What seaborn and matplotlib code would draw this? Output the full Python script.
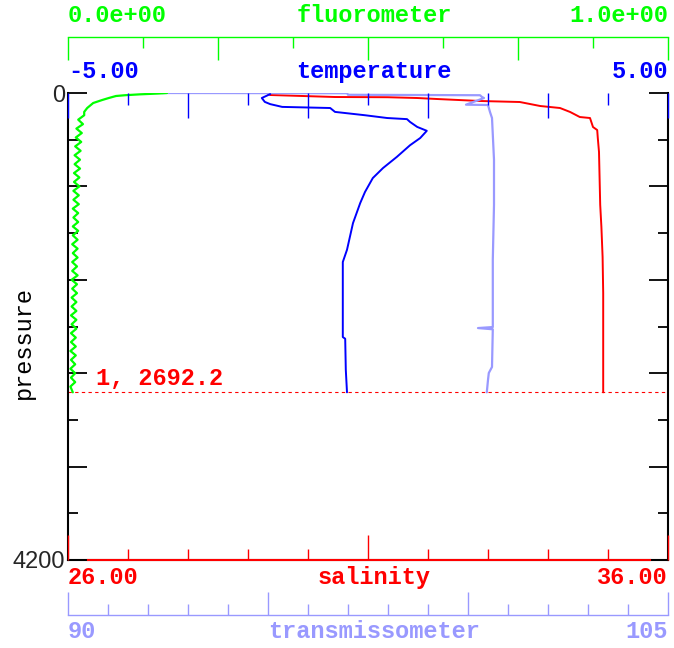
import numpy as np
import matplotlib
matplotlib.use("Agg")
import matplotlib.pyplot as plt
import seaborn as sns

# profile data (pressure in dbar)
pres_temp = [10, 45, 80, 100, 125, 135, 170, 200, 225, 235, 260, 305, 340, 405, 470,
             575, 675, 765, 890, 990, 1170, 1410, 1520, 1860, 2195, 2210, 2490, 2692]
temp = [-1.63, -1.77, -1.72, -1.63, -1.43, -0.63, -0.55, -0.05, 0.32, 0.65, 0.70, 0.82, 0.98, 0.87, 0.70,
        0.48, 0.25, 0.08, -0.05, -0.13, -0.25, -0.35, -0.42, -0.42, -0.42, -0.38, -0.37, -0.35]

pres_sal = [5, 18, 36, 38, 45, 54, 72, 81, 117, 135, 171, 216, 225, 306, 333, 405, 530,
            1005, 1205, 1475, 1800, 2692]
sal = [29.33, 29.37, 30.45, 31.33, 31.82, 32.15, 32.87, 33.53, 33.87, 34.20, 34.37, 34.53, 34.70,
       34.75, 34.82, 34.83, 34.85, 34.87, 34.89, 34.91, 34.92, 34.92]

pres_trans = [0, 2, 16, 20, 36, 45, 105, 108, 171, 225, 600, 1007, 1500, 2105, 2114, 2125,
              2464, 2518, 2581, 2692]
trans = [92.35, 96.98, 97.00, 100.30, 100.35, 100.40, 99.95, 100.50, 100.55, 100.60, 100.65,
         100.65, 100.62, 100.62, 100.25, 100.62, 100.60, 100.52, 100.50, 100.47]

pres_fluor = [0, 5, 12, 20, 27, 45, 63, 90, 135, 170,
              200, 240, 280, 320, 360, 400, 440, 480, 520, 560, 600, 640, 680, 720, 760,
              800, 840, 880, 920, 960, 1000, 1040, 1080, 1120, 1160, 1200, 1240, 1280, 1320,
              1360, 1400, 1440, 1480, 1520, 1560, 1600, 1640, 1680, 1720, 1760, 1800, 1840,
              1880, 1920, 1960, 2000, 2040, 2080, 2120, 2160, 2200, 2240, 2280, 2320, 2360,
              2400, 2440, 2480, 2520, 2560, 2600, 2640, 2692]
fluor = [0.165, 0.150, 0.120, 0.095, 0.080, 0.068, 0.057, 0.042, 0.032, 0.027,
         0.027, 0.017, 0.025, 0.014, 0.023, 0.013, 0.022, 0.012, 0.021, 0.011, 0.020, 0.011,
         0.020, 0.010, 0.019, 0.010, 0.019, 0.009, 0.018, 0.009, 0.018, 0.008, 0.017, 0.009,
         0.017, 0.008, 0.017, 0.008, 0.016, 0.007, 0.016, 0.008, 0.016, 0.007, 0.015, 0.007,
         0.016, 0.006, 0.015, 0.007, 0.015, 0.006, 0.014, 0.006, 0.014, 0.005, 0.014, 0.006,
         0.014, 0.005, 0.013, 0.005, 0.013, 0.004, 0.013, 0.005, 0.012, 0.004, 0.012, 0.005,
         0.012, 0.004, 0.008]

pres_max = 2692.2

GREEN = '#00ff00'
BLUE = '#0000ff'
RED = '#ff0000'
LBLUE = '#9999ff'
PT = 0.72  # points per pixel at dpi 100

sns.set_style("white")
mono = dict(family='Liberation Mono', weight='bold', size=17)

fig = plt.figure(figsize=(6.74, 6.48), dpi=100)
ax = fig.add_axes([68 / 674, 88 / 648, 600 / 674, 467 / 648])

# pressure frame
ax.set_xlim(0, 1)
ax.set_xticks([])
ax.set_yticks(np.arange(0, 4201, 840))
ax.set_yticks(np.arange(420, 4200, 840), minor=True)
ax.set_yticklabels(['0', '', '', '', '', '4200'], family='Liberation Sans', size=17)
ax.tick_params(axis='y', which='both', direction='in', left=True, right=True,
               width=1.3, color='black', pad=2)
ax.tick_params(axis='y', which='major', length=19 * PT)
ax.tick_params(axis='y', which='minor', length=10 * PT)
ax.spines['top'].set_visible(False)
for s in ['left', 'right', 'bottom']:
    ax.spines[s].set_color('black')
    ax.spines[s].set_linewidth(1.5)
ax.axhline(pres_max, color=RED, lw=0.8, ls=(0, (3, 3)))
ax.annotate(f"1, {pres_max}", xy=(0.047, pres_max), xycoords=('axes fraction', 'data'),
            xytext=(0, 10), textcoords='offset points', va='center', ha='left',
            color=RED, **mono)
ax.text(-0.075, 0.465, 'pressure', transform=ax.transAxes, rotation=90,
        ha='center', va='center', family='Liberation Mono', size=17, color='black')


def twin(lims, side, color, major, minor, big, small, outward=None):
    t = ax.twiny()
    for s in t.spines.values():
        s.set_visible(False)
    t.xaxis.set_ticks_position(side)
    t.set_xticks(major)
    t.set_xticks(minor, minor=True)
    t.tick_params(axis='x', which='both', direction='in', color=color, width=1,
                  labeltop=False, labelbottom=False)
    t.tick_params(axis='x', which='major', length=big * PT)
    t.tick_params(axis='x', which='minor', length=small * PT)
    if outward is not None:
        t.spines[side].set_visible(True)
        t.spines[side].set_position(('outward', outward * PT))
        t.spines[side].set_color(color)
        t.spines[side].set_linewidth(1)
    t.set_xlabel('')
    return t, lims


ax_s, lim_s = twin((26, 36), 'bottom', RED, [26, 31, 36],
                   [27, 28, 29, 30, 32, 33, 34, 35], 25, 11)
ax_s.spines['bottom'].set_visible(True)
ax_s.spines['bottom'].set_color(RED)
ax_s.spines['bottom'].set_linewidth(1.5)
ax_s.spines['bottom'].set_bounds(26.33, 35.7)

ax_tr, lim_tr = twin((90, 105), 'bottom', LBLUE, [90, 95, 100, 105],
                     [91, 92, 93, 94, 96, 97, 98, 99, 101, 102, 103, 104], 23, 11, outward=55)
ax_f, lim_f = twin((0, 1), 'top', GREEN, [0, 0.25, 0.5, 0.75, 1.0],
                   [0.125, 0.375, 0.625, 0.875], 23, 11, outward=56)
ax_t, lim_t = twin((-5, 5), 'top', BLUE, [-5, -3, -1, 1, 3, 5],
                   [-4, -2, 0, 2, 4], 25, 12)

sns.lineplot(x=fluor, y=pres_fluor, sort=False, estimator=None, color=GREEN, lw=1.6, ax=ax_f)
sns.lineplot(x=trans, y=pres_trans, sort=False, estimator=None, color=LBLUE, lw=1.6, ax=ax_tr)
sns.lineplot(x=sal, y=pres_sal, sort=False, estimator=None, color=RED, lw=1.4, ax=ax_s)
sns.lineplot(x=temp, y=pres_temp, sort=False, estimator=None, color=BLUE, lw=1.4, ax=ax_t)

for t, lim in [(ax_s, lim_s), (ax_tr, lim_tr), (ax_f, lim_f), (ax_t, lim_t)]:
    t.set_xlim(*lim)
    t.set_xlabel('')
    t.set_ylabel('')
ax.set_ylim(4200, 0)
ax.set_ylabel('')

# axis end labels and names
rows = [
    (1.165, GREEN, '0.0e+00', 'fluorometer', '1.0e+00'),
    (1.045, BLUE, '-5.00', 'temperature', '5.00'),
    (-0.0385, RED, '26.00', 'salinity', '36.00'),
    (-0.154, LBLUE, '90', 'transmissometer', '105'),
]
for y, c, lo, name, hi in rows:
    ax.text(0.0, y, lo, transform=ax.transAxes, ha='left', va='center', color=c, **mono)
    ax.text(0.51, y, name, transform=ax.transAxes, ha='center', va='center', color=c, **mono)
    ax.text(1.0, y, hi, transform=ax.transAxes, ha='right', va='center', color=c, **mono)

fig.savefig('out.png', dpi=100, facecolor='white')
